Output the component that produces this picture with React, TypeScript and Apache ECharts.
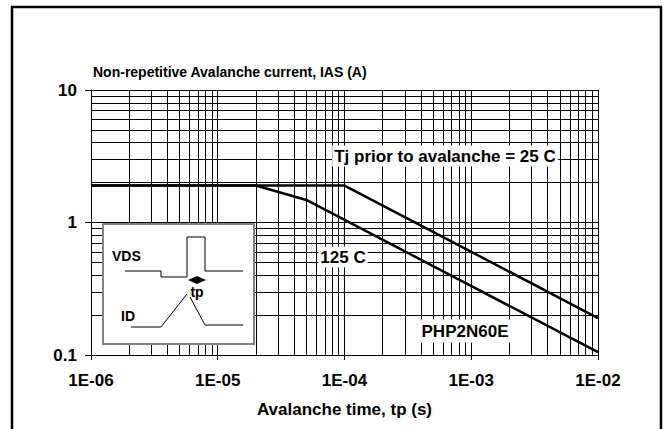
import React, { useEffect, useRef } from "react";
import * as echarts from "echarts";

// ---- data ----
const tp25: number[] = [1e-6, 1e-4, 1e-2];
const ias25: number[] = [1.9, 1.9, 0.19];
const tp125: number[] = [1e-6, 2e-5, 5e-5, 1e-2];
const ias125: number[] = [1.9, 1.9, 1.48, 0.105];

const xTickLabels: string[] = ["1E-06", "1E-05", "1E-04", "1E-03", "1E-02"];
const yTickLabels: string[] = ["0.1", "1", "10"];
const xDecades: number[] = [1e-6, 1e-5, 1e-4, 1e-3];
const yDecades: number[] = [0.1, 1];
const minorMultipliers: number[] = [2, 3, 4, 5, 6, 7, 8, 9];

const xMin = 1e-6;
const xMax = 1e-2;
const yMin = 0.1;
const yMax = 10;

const FONT = '"Liberation Sans", Arial, Helvetica, sans-serif';

export default function App() {
  const ref = useRef<HTMLDivElement>(null);

  useEffect(() => {
    if (!ref.current) return;
    const chart = echarts.init(ref.current, undefined, { renderer: "svg" });

    const minorX: number[] = [];
    xDecades.forEach((d) => minorMultipliers.forEach((m) => minorX.push(d * m)));
    const minorY: number[] = [];
    yDecades.forEach((d) => minorMultipliers.forEach((m) => minorY.push(d * m)));

    const gridLineStyle = { color: "#000", width: 1, type: "solid" as const };

    const option: any = {
      animation: false,
      backgroundColor: "#ffffff",
      grid: { left: 91, right: 69, top: 90, bottom: 74, containLabel: false },
      xAxis: {
        type: "log",
        logBase: 10,
        min: xMin,
        max: xMax,
        name: "Avalanche time, tp (s)",
        nameLocation: "middle",
        nameGap: 46,
        nameTextStyle: { fontFamily: FONT, fontWeight: "bold", fontSize: 17, color: "#000" },
        axisLine: { show: true, lineStyle: { color: "#000", width: 1 } },
        axisTick: { show: true, length: 5, lineStyle: { color: "#000" } },
        axisLabel: {
          margin: 17,
          fontFamily: FONT,
          fontWeight: "bold",
          fontSize: 17,
          color: "#000",
          formatter: (v: number) => {
            const i = Math.round(Math.log10(v) - Math.log10(xMin));
            return xTickLabels[i] ?? "";
          },
        },
        splitLine: { show: true, lineStyle: gridLineStyle },
      },
      yAxis: {
        type: "log",
        logBase: 10,
        min: yMin,
        max: yMax,
        name: "Non-repetitive Avalanche current, IAS (A)",
        nameLocation: "end",
        nameGap: 18,
        nameTextStyle: {
          fontFamily: FONT,
          fontWeight: "bold",
          fontSize: 14,
          color: "#000",
          align: "left",
          verticalAlign: "middle",
          padding: [0, 0, 0, 2],
        },
        axisLine: { show: true, lineStyle: { color: "#000", width: 1 } },
        axisTick: { show: true, length: 6, lineStyle: { color: "#000" } },
        axisLabel: {
          margin: 14,
          fontFamily: FONT,
          fontWeight: "bold",
          fontSize: 17,
          color: "#000",
          formatter: (v: number) => {
            const i = Math.round(Math.log10(v) - Math.log10(yMin));
            return yTickLabels[i] ?? "";
          },
        },
        splitLine: { show: true, lineStyle: gridLineStyle },
      },
      series: [
        {
          name: "25 C",
          type: "line",
          data: tp25.map((t, i) => [t, ias25[i]]),
          symbol: "none",
          lineStyle: { color: "#000", width: 2.5 },
          z: 3,
          markLine: {
            silent: true,
            symbol: ["none", "none"],
            label: { show: false },
            lineStyle: gridLineStyle,
            animation: false,
            data: [
              ...minorX.map((v) => [{ coord: [v, yMin] }, { coord: [v, yMax] }]),
              ...minorY.map((v) => [{ coord: [xMin, v] }, { coord: [xMax, v] }]),
            ],
          },
        },
        {
          name: "125 C",
          type: "line",
          data: tp125.map((t, i) => [t, ias125[i]]),
          symbol: "none",
          lineStyle: { color: "#000", width: 2.5 },
          z: 3,
        },
      ],
      graphic: {
        elements: [
          // outer frame
          {
            type: "rect",
            z: 100,
            shape: { x: 12, y: 7, width: 649, height: 440 },
            style: { fill: "none", stroke: "#000", lineWidth: 2.5 },
          },
          // annotations
          {
            type: "text",
            z: 100,
            x: 445,
            y: 156,
            style: {
              text: "Tj prior to avalanche = 25 C",
              font: `bold 17px ${FONT}`,
              fill: "#000",
              align: "center",
              verticalAlign: "middle",
              backgroundColor: "#fff",
              padding: [2, 2, 2, 2],
            },
          },
          {
            type: "text",
            z: 100,
            x: 343,
            y: 257,
            style: {
              text: "125 C",
              font: `bold 17px ${FONT}`,
              fill: "#000",
              align: "center",
              verticalAlign: "middle",
              backgroundColor: "#fff",
              padding: [2, 2, 2, 2],
            },
          },
          {
            type: "text",
            z: 100,
            x: 465,
            y: 331,
            style: {
              text: "PHP2N60E",
              font: `bold 17px ${FONT}`,
              fill: "#000",
              align: "center",
              verticalAlign: "middle",
              backgroundColor: "#fff",
              padding: [3, 3, 3, 3],
            },
          },
          // inset box
          {
            type: "rect",
            z: 100,
            shape: { x: 103, y: 224, width: 151, height: 120 },
            style: { fill: "#fff", stroke: "#808080", lineWidth: 2 },
          },
          {
            type: "polyline",
            z: 101,
            shape: {
              points: [
                [125, 271], [161, 271], [161, 277], [187, 277],
                [187, 237], [205, 237], [205, 271], [243, 271],
              ],
            },
            style: { stroke: "#000", lineWidth: 1, fill: "none" },
          },
          {
            type: "polyline",
            z: 101,
            shape: { points: [[131, 327], [161, 327], [187, 294]] },
            style: { stroke: "#000", lineWidth: 1, fill: "none" },
          },
          {
            type: "polyline",
            z: 101,
            shape: { points: [[190, 297], [205, 325], [243, 325]] },
            style: { stroke: "#000", lineWidth: 1, fill: "none" },
          },
          {
            type: "polygon",
            z: 101,
            shape: { points: [[188, 280], [197, 276], [206, 280], [197, 284]] },
            style: { fill: "#000" },
          },
          {
            type: "text",
            z: 101,
            x: 112,
            y: 256,
            style: {
              text: "VDS",
              font: `bold 14px ${FONT}`,
              fill: "#000",
              align: "left",
              verticalAlign: "middle",
            },
          },
          {
            type: "text",
            z: 101,
            x: 121,
            y: 316,
            style: {
              text: "ID",
              font: `bold 14px ${FONT}`,
              fill: "#000",
              align: "left",
              verticalAlign: "middle",
            },
          },
          {
            type: "text",
            z: 101,
            x: 197,
            y: 292,
            style: {
              text: "tp",
              font: `bold 14px ${FONT}`,
              fill: "#000",
              align: "center",
              verticalAlign: "middle",
            },
          },
        ],
      },
    };

    chart.setOption(option);
    return () => chart.dispose();
  }, []);

  return (
    <div
      ref={ref}
      style={{ position: "fixed", left: 0, top: 0, width: 667, height: 429, background: "#fff" }}
    />
  );
}
